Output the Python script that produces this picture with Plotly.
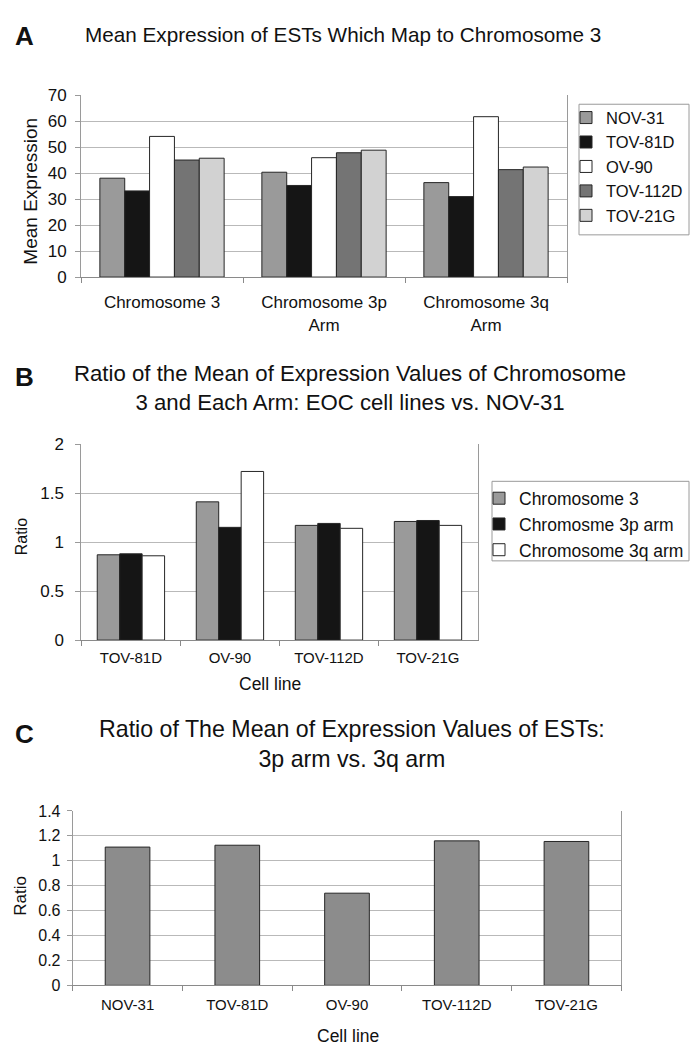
import plotly.graph_objects as go

# ---------------- data ----------------
cat_A = ["Chromosome 3", "Chromosome 3p<br>Arm", "Chromosome 3q<br>Arm"]
lines_A = ["NOV-31", "TOV-81D", "OV-90", "TOV-112D", "TOV-21G"]
nov31 = [38.1, 40.4, 36.4]
tov81d = [33.2, 35.3, 31.0]
ov90 = [54.2, 46.0, 61.8]
tov112d = [45.1, 47.9, 41.4]
tov21g = [45.8, 48.9, 42.4]
values_A = [nov31, tov81d, ov90, tov112d, tov21g]

cells_B = ["TOV-81D", "OV-90", "TOV-112D", "TOV-21G"]
series_B = ["Chromosome 3", "Chromosme 3p arm", "Chromosome 3q arm"]
chr3 = [0.87, 1.41, 1.17, 1.21]
chr3p = [0.88, 1.15, 1.19, 1.22]
chr3q = [0.86, 1.72, 1.14, 1.17]
values_B = [chr3, chr3p, chr3q]

cells_C = ["NOV-31", "TOV-81D", "OV-90", "TOV-112D", "TOV-21G"]
ratio_pq = [1.11, 1.125, 0.74, 1.16, 1.155]

# ---------------- style ----------------
FONT = "Liberation Sans, Arial, Helvetica, sans-serif"
W, H = 690, 1053
colors_A = ["#9a9a9a", "#151515", "#ffffff", "#747474", "#d2d2d2"]
colors_B = ["#9a9a9a", "#151515", "#ffffff"]
color_C = "#8c8c8c"
EDGE = dict(color="#262626", width=1)
GRID = "#b9b9b9"
AXC = "#8a8a8a"
BOXC = "#9a9a9a"


def px(x):
    return x / W


def py(y):
    return 1 - y / H


fig = go.Figure()

# Panel A (grouped bars, explicit slot widths)
gfA = 0.767
wA = gfA / len(lines_A)
for i, (name, vals) in enumerate(zip(lines_A, values_A)):
    fig.add_trace(go.Bar(
        x=cat_A, y=vals, name=name, xaxis="x", yaxis="y",
        marker=dict(color=colors_A[i], line=EDGE),
        width=wA, offset=-gfA / 2 + i * wA,
        legend="legend", legendgroup="a%d" % i,
    ))

# Panel B
gfB = 0.68
wB = gfB / len(series_B)
for i, (name, vals) in enumerate(zip(series_B, values_B)):
    fig.add_trace(go.Bar(
        x=cells_B, y=vals, name=name, xaxis="x2", yaxis="y2",
        marker=dict(color=colors_B[i], line=EDGE),
        width=wB, offset=-gfB / 2 + i * wB,
        legend="legend2", legendgroup="b%d" % i,
    ))

# Panel C
fig.add_trace(go.Bar(
    x=cells_C, y=ratio_pq, name="3p/3q", xaxis="x3", yaxis="y3",
    marker=dict(color=color_C, line=EDGE), width=0.407, showlegend=False,
))


def xax(domain, anchor, size, standoff):
    return dict(domain=domain, anchor=anchor, type="category",
                showline=True, linecolor=AXC, linewidth=1,
                ticks="outside", tickson="boundaries", ticklen=5, tickcolor=AXC,
                showgrid=False, tickfont=dict(family=FONT, size=size, color="#111"),
                ticklabelstandoff=standoff, fixedrange=True)


def yax(domain, anchor, rng, dtick, size, standoff):
    return dict(domain=domain, anchor=anchor, range=rng, dtick=dtick,
                showline=True, linecolor="#9a9a9a", linewidth=1, mirror=True,
                ticks="outside", ticklen=5, tickcolor="#9a9a9a",
                showgrid=True, gridcolor=GRID, gridwidth=1, zeroline=False,
                tickfont=dict(family=FONT, size=size, color="#111"),
                ticklabelstandoff=standoff, fixedrange=True)


fig.update_layout(
    width=W, height=H, margin=dict(l=0, r=0, t=0, b=0),
    paper_bgcolor="white", plot_bgcolor="white",
    barmode="overlay", showlegend=True,
    font=dict(family=FONT, color="#111"),
    xaxis=xax([px(81), px(567)], "y", 17, 10),
    yaxis=yax([py(273), py(88)], "x", [0, 70], 10, 17, 5),
    xaxis2=xax([px(81.4), px(477.5)], "y2", 15, 4),
    yaxis2=yax([py(642.7), py(443)], "x2", [0, 2], 0.5, 17, 8),
    xaxis3=xax([px(72.7), px(621.3)], "y3", 15, 6),
    yaxis3=yax([py(994.3), py(816.7)], "x3", [0, 1.4], 0.2, 16, 3),
    legend=dict(x=px(566), y=py(93), xanchor="left", yanchor="top",
                borderwidth=0, bgcolor="rgba(0,0,0,0)",
                font=dict(family=FONT, size=16.5, color="#111"),
                tracegroupgap=7, traceorder="normal"),
    legend2=dict(x=px(479), y=py(480), xanchor="left", yanchor="top",
                 borderwidth=0, bgcolor="rgba(0,0,0,0)",
                 font=dict(family=FONT, size=17.5, color="#111"),
                 tracegroupgap=8, traceorder="normal"),
    shapes=[
        dict(type="rect", xref="paper", yref="paper",
             x0=px(579), x1=px(689), y0=py(230), y1=py(97),
             line=dict(color=BOXC, width=1), fillcolor="rgba(0,0,0,0)", layer="below"),
        dict(type="rect", xref="paper", yref="paper",
             x0=px(492), x1=px(689), y0=py(562), y1=py(481),
             line=dict(color=BOXC, width=1), fillcolor="rgba(0,0,0,0)", layer="below"),
    ],
)

ann = []


def text(x, y, s, size, angle=0, xanchor="center"):
    ann.append(dict(x=px(x), y=py(y), xref="paper", yref="paper", text=s,
                    showarrow=False, xanchor=xanchor, yanchor="middle",
                    textangle=angle,
                    font=dict(family=FONT, size=size, color="#111")))


# Panel letters and titles
text(13, 28, "<b>A</b>", 26, xanchor="left")
text(343, 26, "Mean Expression of ESTs Which Map to Chromosome 3", 20.7)
text(13, 375, "<b>B</b>", 26, xanchor="left")
text(350, 386, "Ratio of the Mean of Expression Values of Chromosome<br>3 and Each Arm: EOC cell lines vs. NOV-31", 22.2)
text(13, 738, "<b>C</b>", 26, xanchor="left")
text(352, 749, "Ratio of The Mean of Expression Values of ESTs:<br>3p arm vs. 3q arm", 23.2)

# Axis titles
text(31, 186, "Mean Expression", 19, angle=-90)
text(21, 538, "Ratio", 16, angle=-90)
text(270, 687, "Cell line", 17.5)
text(21, 903, "Ratio", 17, angle=-90)
text(348, 1046, "Cell line", 17.5)

fig.update_layout(annotations=ann)

fig.write_html(
    "out.html",
    config={"displayModeBar": False},
    post_script="document.body.style.margin='0';document.body.style.padding='0';",
)
